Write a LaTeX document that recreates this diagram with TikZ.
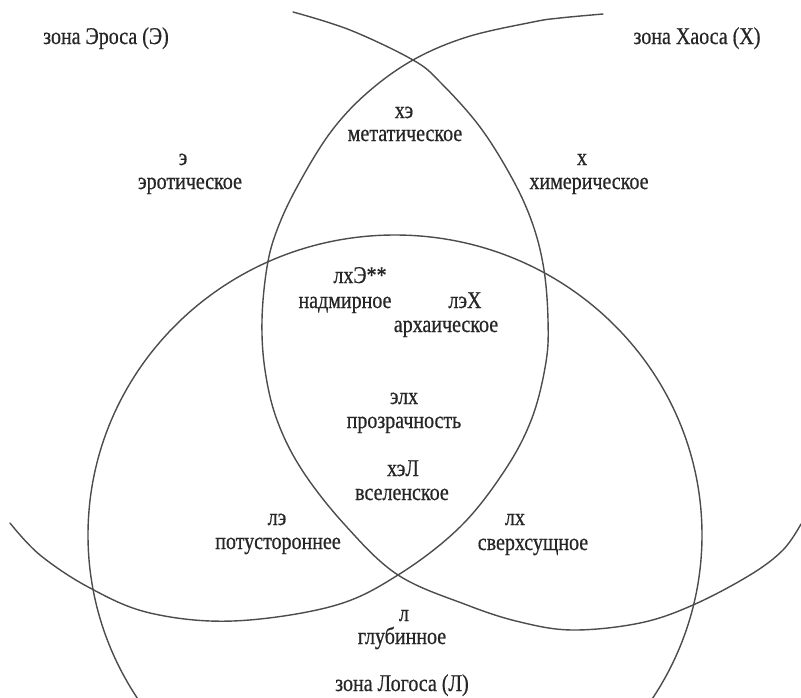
\documentclass[tikz,border=0pt]{standalone}
\usepackage{fontspec}
\setmainfont{Liberation Serif}
\newfontfamily\scanfont{Liberation Serif}[FakeBold=0.7]
\newcommand{\tl}[1]{\scalebox{1}[1.2]{#1}}
\begin{document}
\begin{tikzpicture}[x=1pt,y=-1pt,
  curve/.style={draw=black!70, line width=1.4pt, line cap=round, line join=round},
  lbl/.style={anchor=base, text=black!85, inner sep=0pt, font=\scanfont\fontsize{20}{24}\selectfont}]
\useasboundingbox (0,0) rectangle (801,697);
\fill[white] (0,0) rectangle (801,697);
\begin{scope}
\clip (0,0) rectangle (801,697);
% Logos
\draw[curve] (395,535) ellipse [x radius=307pt, y radius=300pt];
% Eros
\draw[curve] plot[smooth, tension=0.6] coordinates {
 (293,12) (350,30) (413,60) (440,82) (480,127) (513,180) (533,225) (544,270)
 (548,320) (546,362) (532,418) (505,470) (460,527) (398,575) (333,606)
 (233,621) (150,613) (90,588) (40,555) (10,523)};
% Chaos
\draw[curve] plot[smooth, tension=0.6] coordinates {
 (603,14) (560,18) (533,22) (467,37) (413,60) (367,93) (330,133) (297,187)
 (277,230) (267,267) (262,320) (265,370) (277,420) (302,470) (345,525)
 (398,575) (467,605) (520,622) (573,630) (640,623) (693,605) (750,575)
 (783,550) (801,524)};
\end{scope}
% labels
\node[lbl] (zE) at (106,44) {\tl{зона Эроса (Э)}};
\node[lbl] (zX) at (697,44) {\tl{зона Хаоса (Х)}};
\node[lbl] (xe1) at (404,118) {\tl{хэ}};
\node[lbl] (xe2) at (405,141) {\tl{метатическое}};
\node[lbl] (e1) at (183,165) {\tl{э}};
\node[lbl] (e2) at (190,189) {\tl{эротическое}};
\node[lbl] (x1) at (582,165) {\tl{х}};
\node[lbl] (x2) at (589,189) {\tl{химерическое}};
\node[lbl] (lxe1) at (360,283) {\tl{лхЭ**}};
\node[lbl] (lxe2) at (345,308) {\tl{надмирное}};
\node[lbl] (lex1) at (465,308) {\tl{лэХ}};
\node[lbl] (lex2) at (446,332) {\tl{архаическое}};
\node[lbl] (elx1) at (404,404) {\tl{элх}};
\node[lbl] (elx2) at (404,428) {\tl{прозрачность}};
\node[lbl] (xel1) at (403,476) {\tl{хэЛ}};
\node[lbl] (xel2) at (402,500) {\tl{вселенское}};
\node[lbl] (le1) at (277,525) {\tl{лэ}};
\node[lbl] (le2) at (278,549) {\tl{потустороннее}};
\node[lbl] (lx1) at (515,525) {\tl{лх}};
\node[lbl] (lx2) at (533,550) {\tl{сверхсущное}};
\node[lbl] (l1) at (404,621) {\tl{л}};
\node[lbl] (l2) at (402,644) {\tl{глубинное}};
\node[lbl] (zL) at (402,691) {\tl{зона Логоса (Л)}};
\end{tikzpicture}
\end{document}
